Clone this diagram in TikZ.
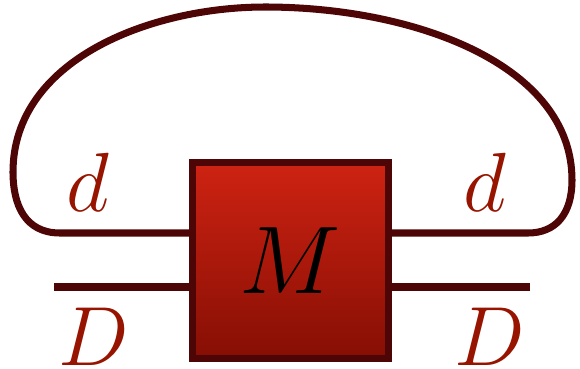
\documentclass[tikz,border=0pt]{standalone}
\usepackage{amsmath,amssymb}
\usepackage{graphicx}
\usepackage{xcolor}
\usepackage{tikz}
\usetikzlibrary{calc,positioning}
\definecolor{edgecol}{RGB}{77,5,5}
\definecolor{labcol}{RGB}{150,20,0}
\definecolor{boxtop}{RGB}{206,35,18}
\definecolor{boxbot}{RGB}{134,14,4}

\begin{document}
\begin{tikzpicture}[
      x=0.025cm,y=-0.025cm,
      tens/.style={rectangle,draw=edgecol,line width=5pt,top color=boxtop,bottom color=boxbot,minimum size=4.9cm,inner sep=0pt,font=\Huge},
      leg/.style={draw=edgecol,line width=5pt},
      lbl/.style={text=labcol,inner sep=0pt,font=\Huge,scale=2.4,transform shape}]
    \useasboundingbox (0,0) rectangle (580,369);
    \coordinate (ul) at (60,233);
    \coordinate (ll) at (54,287);
    \coordinate (ur) at (528,233);
    \coordinate (lr) at (530,287);
    \coordinate (mc) at (290.5,260.5);
    \draw[leg] (mc |- ul) -- (ul) .. controls (25,233) and (13,205) .. (13,172)
      .. controls (13,60) and (150,7) .. (265,7)
      .. controls (415,7) and (572,65) .. (572,180)
      .. controls (572,215) and (555,233) .. (ur) -- (mc |- ur);
    \draw[leg] (ll) -- (mc |- ll);
    \draw[leg] (lr) -- (mc |- lr);
    \node[tens] (M) at (mc) {\scalebox{2.75}{$M$}};
    \node[lbl] (dl) at (88,182) {$d$};
    \node[lbl] (dr) at (485,182) {$d$};
    \node[lbl] (Dl) at (94,337) {$D$};
    \node[lbl] (Dr) at (490,337) {$D$};
  \end{tikzpicture}
\end{document}
